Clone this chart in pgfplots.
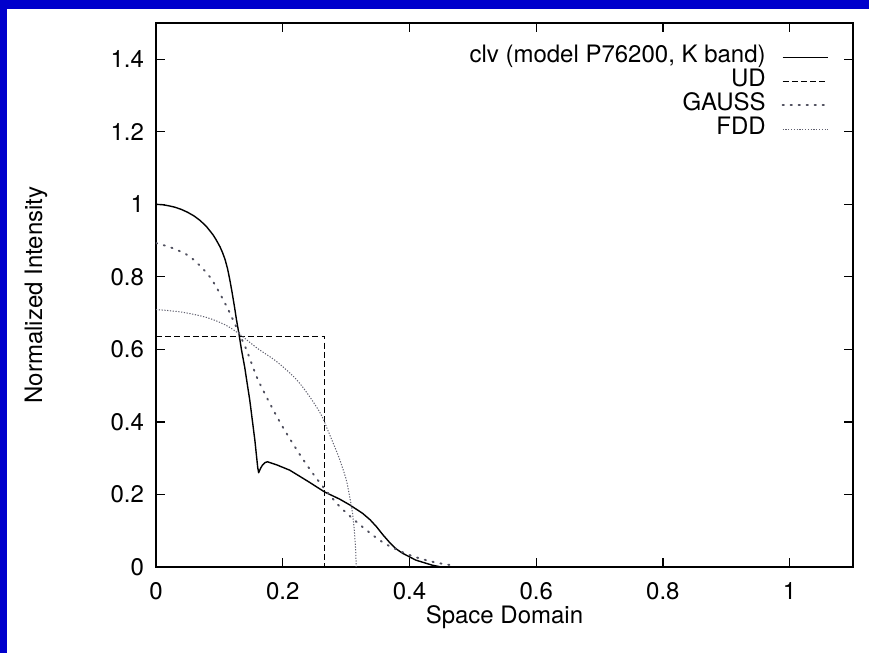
\documentclass[border=0pt]{standalone}
\usepackage{fontspec}
\setmainfont{TeX Gyre Heros}
\usepackage{pgfplots}
\pgfplotsset{compat=1.18}
\definecolor{bgblue}{RGB}{0,0,204}
\definecolor{gcol}{RGB}{80,80,95}
\definecolor{fcol}{RGB}{95,95,110}
\begin{document}
\begin{tikzpicture}
\fill[bgblue] (-78pt,-43pt) rectangle (356.5pt,283.5pt);
\fill[white] (-74.5pt,-43pt) rectangle (356.5pt,279pt);
\begin{axis}[
 scale only axis, width=348.5pt, height=272pt,
 xmin=0, xmax=1.1, ymin=0, ymax=1.5,
 xtick={0,0.2,0.4,0.6,0.8,1},
 ytick={0,0.2,0.4,0.6,0.8,1,1.2,1.4},
 tick align=inside, major tick length=4.5pt,
 axis line style={line width=0.8pt},
 every tick/.style={black, line width=0.6pt},
 /pgf/number format/assume math mode=true,
 tick label style={font=\fontsize{12}{14}\selectfont},
 xticklabel style={yshift=-4pt},
 yticklabel style={xshift=-2.5pt},
 xlabel={Space Domain}, ylabel={Normalized Intensity},
 label style={font=\fontsize{12}{14}\selectfont},
 xlabel style={at={(axis description cs:0.5,-0.0919)}, anchor=center},
 ylabel style={at={(axis description cs:-0.1722,0.5)}, anchor=center},
 legend cell align=right, legend plot pos=right,
 legend style={at={(axis description cs:1,1)}, anchor=north east, xshift=-12pt, yshift=-11pt,
   draw=none, fill=none, inner sep=0pt, row sep=0pt, column sep=8pt,
   font=\fontsize{12}{14}\selectfont,
   nodes={text height=8.6pt, text depth=3.4pt, inner sep=0pt}},
 legend image code/.code={\draw[#1] (0pt,0pt) -- (22.5pt,0pt);},
]
% clv
\addplot[black, line width=0.7pt, line join=round] coordinates {
(0,1.0) (0.01,0.999) (0.02,0.996) (0.03,0.992) (0.04,0.986) (0.05,0.978)
(0.06,0.968) (0.07,0.955) (0.08,0.938) (0.09,0.916) (0.095,0.902) (0.101,0.883)
(0.105,0.867) (0.109,0.848) (0.113,0.822) (0.1165,0.792) (0.12,0.758)
(0.124,0.716) (0.127,0.682) (0.131,0.642) (0.135,0.598)
(0.14,0.551) (0.144,0.505) (0.148,0.46) (0.152,0.405) (0.156,0.35) (0.159,0.3) (0.1605,0.275) (0.162,0.26)
(0.165,0.272) (0.168,0.281) (0.172,0.288) (0.176,0.29) (0.19,0.282) (0.211,0.267) (0.24,0.236)
(0.266,0.207) (0.29,0.187) (0.306,0.171) (0.326,0.148) (0.338,0.13) (0.348,0.111) (0.358,0.089)
(0.369,0.067) (0.379,0.05) (0.389,0.038) (0.41,0.019) (0.436,0.005) (0.45,0.0)};
\addlegendentry{clv (model P76200, K band)}
% UD
\addplot[black, line width=0.6pt, dash pattern=on 3pt off 1.6pt] coordinates {
(0,0.636) (0.266,0.636) (0.266,0)};
\addlegendentry{UD}
% GAUSS
\addplot[gcol, line width=0.95pt, line cap=round, dash pattern=on 0.6pt off 3.4pt, smooth, tension=0.5] coordinates {
(0,0.893) (0.025,0.88) (0.054,0.855) (0.085,0.80) (0.109,0.727) (0.124,0.672)
(0.131,0.645) (0.143,0.598) (0.16,0.52) (0.18,0.45) (0.2,0.386) (0.227,0.31)
(0.253,0.245) (0.285,0.176) (0.316,0.125) (0.358,0.068) (0.4,0.033)
(0.44,0.013) (0.47,0.004)};
\addlegendentry{GAUSS}
% FDD
\addplot[fcol, line width=0.5pt, dash pattern=on 0.6pt off 0.8pt, smooth, tension=0.5] coordinates {
(0,0.71) (0.04,0.703) (0.08,0.688) (0.11,0.667) (0.131,0.643) (0.16,0.603)
(0.19,0.567) (0.22,0.52) (0.24,0.476) (0.26,0.422) (0.27,0.382) (0.28,0.34)
(0.29,0.296) (0.30,0.242) (0.305,0.2) (0.31,0.15) (0.313,0.1) (0.315,0.05) (0.316,0)};
\addlegendentry{FDD}
\end{axis}
\end{tikzpicture}
\end{document}
